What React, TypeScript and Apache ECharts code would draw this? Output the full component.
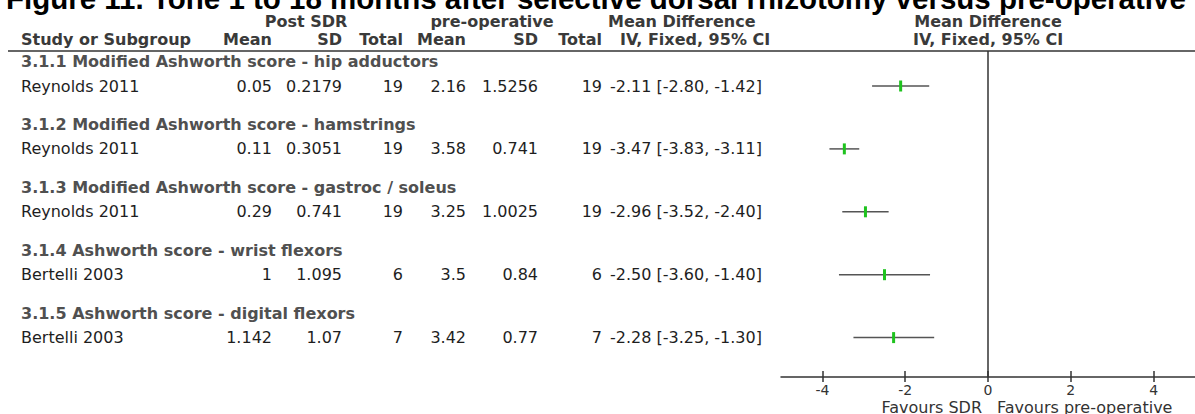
import React, { useEffect, useRef } from "react";
import * as echarts from "echarts";

const TITLE = "Figure 11. Tone 1 to 18 months after selective dorsal rhizotomy versus pre-operative";
const subgroups = [
  "3.1.1 Modified Ashworth score - hip adductors",
  "3.1.2 Modified Ashworth score - hamstrings",
  "3.1.3 Modified Ashworth score - gastroc / soleus",
  "3.1.4 Ashworth score - wrist flexors",
  "3.1.5 Ashworth score - digital flexors",
];
const studies = ["Reynolds 2011", "Reynolds 2011", "Reynolds 2011", "Bertelli 2003", "Bertelli 2003"];
const sdrMean = ["0.05", "0.11", "0.29", "1", "1.142"];
const sdrSD = ["0.2179", "0.3051", "0.741", "1.095", "1.07"];
const sdrTotal = [19, 19, 19, 6, 7];
const preMean = ["2.16", "3.58", "3.25", "3.5", "3.42"];
const preSD = ["1.5256", "0.741", "1.0025", "0.84", "0.77"];
const preTotal = [19, 19, 19, 6, 7];
const md = [-2.11, -3.47, -2.96, -2.5, -2.28];
const ciLo = [-2.8, -3.83, -3.52, -3.6, -3.25];
const ciHi = [-1.42, -3.11, -2.4, -1.4, -1.3];
const xTicks = [-4, -2, 0, 2, 4];

const FONT = "'DejaVu Sans'";
const ROW0 = 86;
const ROWSTEP = 62.9;
const GRID_TOP = 51;
const GRID_H = 326;
const GRID_LEFT = 781;
const GRID_W = 414;
const Y_MIN = -(ROW0 - GRID_TOP) / ROWSTEP;
const Y_MAX = Y_MIN + GRID_H / ROWSTEP;
const ZERO_X = GRID_LEFT + GRID_W / 2;

function txt(text: string, x: number, y: number, opts: any = {}) {
  const align = opts.align || "left";
  return {
    type: "text",
    x,
    y,
    silent: true,
    style: {
      text,
      fill: opts.color || "#1e1e1e",
      font: `${opts.bold ? "bold " : ""}${opts.size || 16}px ${opts.family || FONT}`,
      align,
      textAlign: align,
      verticalAlign: "middle",
      textVerticalAlign: "middle",
    },
  };
}

export default function App() {
  const ref = useRef<HTMLDivElement>(null);
  useEffect(() => {
    const chart = echarts.init(ref.current!, null, { renderer: "svg" });
    const g: any[] = [];
    g.push(txt(TITLE, 6, -2, { bold: true, size: 29.5, family: "'Liberation Sans', Arial", color: "#000" }));
    const hc = "#3a3a3a";
    g.push(txt("Post SDR", 306, 21.5, { bold: true, color: hc, align: "center" }));
    g.push(txt("pre-operative", 492, 21.5, { bold: true, color: hc, align: "center" }));
    g.push(txt("Mean Difference", 608, 21.5, { bold: true, color: hc }));
    g.push(txt("Mean Difference", ZERO_X, 21.5, { bold: true, color: hc, align: "center" }));
    g.push(txt("Study or Subgroup", 21, 39, { bold: true, color: hc }));
    const cols = [272, 342, 403, 466, 538, 602];
    const heads = ["Mean", "SD", "Total", "Mean", "SD", "Total"];
    heads.forEach((h, i) => g.push(txt(h, cols[i], 39, { bold: true, color: hc, align: "right" })));
    g.push(txt("IV, Fixed, 95% CI", 620, 39, { bold: true, color: hc }));
    g.push(txt("IV, Fixed, 95% CI", ZERO_X, 39, { bold: true, color: hc, align: "center" }));
    g.push({
      type: "line",
      silent: true,
      shape: { x1: 8, y1: GRID_TOP, x2: 1195, y2: GRID_TOP },
      style: { stroke: "#333", lineWidth: 1.5 },
    });
    studies.forEach((s, i) => {
      const y = ROW0 + ROWSTEP * i;
      g.push(txt(subgroups[i], 21, y - 24.5, { bold: true, color: "#505050" }));
      g.push(txt(s, 21, y));
      const vals = [sdrMean[i], sdrSD[i], String(sdrTotal[i]), preMean[i], preSD[i], String(preTotal[i])];
      vals.forEach((v, j) => g.push(txt(v, cols[j], y, { align: "right" })));
      g.push(txt(`${md[i].toFixed(2)} [${ciLo[i].toFixed(2)}, ${ciHi[i].toFixed(2)}]`, 610, y));
    });
    g.push(txt("Favours SDR", ZERO_X - 6, 407, { color: "#333", align: "right" }));
    g.push(txt("Favours pre-operative", ZERO_X + 9, 407, { color: "#333" }));

    const axisStyle = { color: "#333", width: 1.5 };
    chart.setOption({
      animation: false,
      grid: { left: GRID_LEFT, width: GRID_W, top: GRID_TOP, height: GRID_H, containLabel: false },
      xAxis: [
        {
          type: "value",
          min: -5,
          max: 5,
          position: "bottom",
          axisLine: { show: true, onZero: false, lineStyle: axisStyle },
          axisTick: { show: true, length: 5, customValues: xTicks, lineStyle: axisStyle },
          axisLabel: { show: true, customValues: xTicks, color: "#333", fontSize: 14, fontFamily: "DejaVu Sans", margin: 6 },
          splitLine: { show: false },
        },
        {
          type: "value",
          min: -5,
          max: 5,
          position: "bottom",
          axisLine: { show: false, onZero: false },
          axisTick: { show: true, inside: true, length: 6, customValues: xTicks, lineStyle: axisStyle },
          axisLabel: { show: false },
          splitLine: { show: false },
        },
      ],
      yAxis: { type: "value", inverse: true, min: Y_MIN, max: Y_MAX, show: false, splitLine: { show: false } },
      graphic: g,
      series: [
        {
          type: "custom",
          xAxisIndex: 0,
          yAxisIndex: 0,
          data: studies.map((_, i) => [i, ciLo[i], md[i], ciHi[i]]),
          encode: { x: [1, 2, 3], y: 0 },
          renderItem: (params: any, api: any) => {
            const k = api.value(0);
            const p1 = api.coord([api.value(1), k]);
            const pm = api.coord([api.value(2), k]);
            const p2 = api.coord([api.value(3), k]);
            return {
              type: "group",
              children: [
                {
                  type: "line",
                  shape: { x1: p1[0], y1: p1[1], x2: p2[0], y2: p2[1] },
                  style: { stroke: "#555", lineWidth: 1.5 },
                },
                {
                  type: "rect",
                  shape: { x: pm[0] - 1.5, y: pm[1] - 5.5, width: 3, height: 11 },
                  style: { fill: "#1ec31e" },
                },
              ],
            };
          },
          markLine: {
            silent: true,
            symbol: "none",
            label: { show: false },
            lineStyle: { color: "#333", width: 1.5, type: "solid" },
            data: [{ xAxis: 0 }],
          },
        },
      ],
    });
    return () => chart.dispose();
  }, []);
  return (
    <div
      ref={ref}
      style={{ position: "fixed", left: 0, top: 0, width: 1195, height: 414, background: "#fff" }}
    />
  );
}
